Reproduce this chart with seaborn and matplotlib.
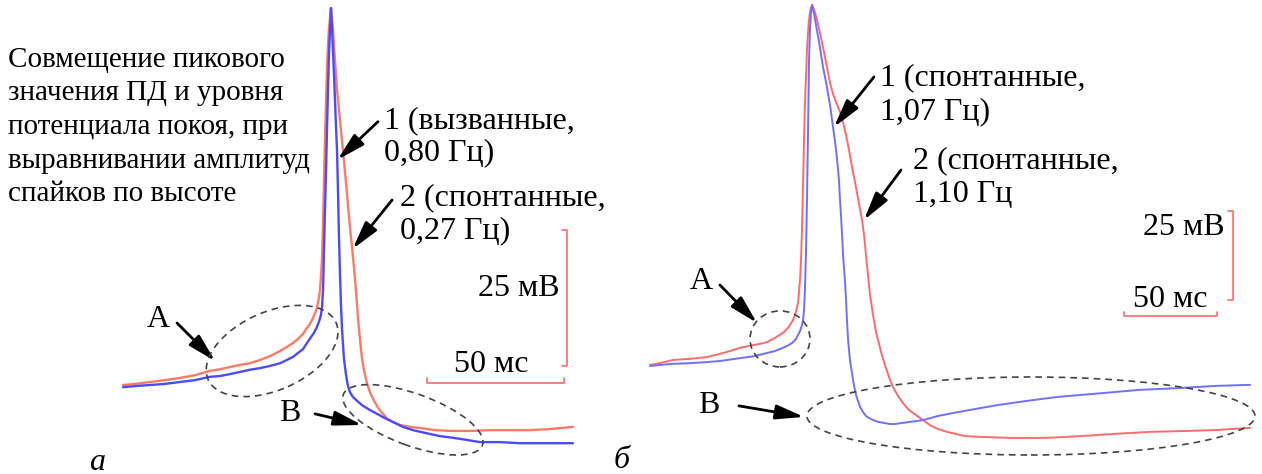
import numpy as np
import pandas as pd
import matplotlib
matplotlib.use("Agg")
import matplotlib.pyplot as plt
import matplotlib.transforms as mtransforms
from matplotlib.patches import Ellipse
import seaborn as sns

# ---------------- data: action potentials, time in ms (0 = peak), voltage in mV ----------------
# panel а: trace 1 (evoked, 0.80 Hz)
a1_t = [-75.9, -71.5, -66.1, -60.6, -55.1, -49.6, -44.2, -40.5, -36.9, -33.2, -29.6, -25.9,
        -22.3, -18.6, -16.1, -13.9, -12.0, -10.2, -8.8, -7.7, -6.2, -5.1, -4.4, -3.65, -3.3,
        -2.9, -2.55, -2.2, -1.8, -1.46, -1.1, -0.73, -0.36, 0.0,
        0.36, 0.73, 1.1, 1.46, 1.8, 2.2, 2.55, 2.9, 3.3, 3.65, 4.0, 4.4, 4.7, 5.5, 6.2, 6.9,
        8.0, 9.5, 11.3, 14.2, 16.8, 19.7, 22.6, 26.3, 29.9, 34.3, 39.8, 44.5, 49.6, 54.4,
        61.7, 69.0, 78.1, 88.3]
a1_v = [-49.7, -49.5, -49.3, -49.1, -48.75, -48.4, -47.8, -47.65, -47.3, -46.9, -46.5, -46.2,
        -45.8, -45.3, -44.7, -44.15, -43.4, -42.7, -41.6, -40.8, -39.7, -38.6, -37.7, -36.4, -35.1,
        -31.8, -24.5, -17.1, -9.8, -2.4, 4.9, 11.4, 16.0, 20.0,
        16.3, 12.3, 7.7, 3.1, -1.5, -6.1, -13.5, -21.7, -29.1, -34.6, -38.8, -41.9, -44.3, -47.5,
        -49.5, -50.6, -51.5, -52.2, -53.0, -53.9, -54.6, -55.4, -56.1, -57.0, -57.6, -58.1,
        -58.7, -59.0, -59.4, -59.8, -59.8, -60.0, -60.0, -60.0]

# panel а: trace 2 (spontaneous, 0.27 Hz)
a2_t = [-75.9, -71.5, -66.1, -60.6, -55.1, -49.6, -44.2, -40.5, -36.9, -33.2, -29.6, -25.9,
        -22.3, -18.6, -16.1, -13.9, -12.0, -10.2, -8.8, -7.7, -6.6, -5.8, -5.1, -4.4, -4.0,
        -3.65, -3.3, -2.9, -2.55, -2.2, -1.8, -1.46, -1.1, -0.73, 0.0,
        0.73, 1.46, 2.2, 3.3, 4.0, 4.7, 5.5, 6.2, 6.9, 7.7, 8.4, 9.1, 9.85, 10.6, 11.3,
        12.0, 13.1, 14.2, 15.7, 17.2, 18.6, 20.4, 22.6, 25.2, 28.8, 32.5, 38.0, 44.5, 50.7,
        58.0, 65.3, 72.6, 79.9, 88.3]
a2_v = [-49.3, -49.1, -48.75, -48.4, -48.0, -47.5, -46.7, -46.4, -46.0, -45.6, -45.3, -44.7,
        -44.0, -43.05, -42.3, -41.6, -40.8, -39.9, -38.8, -38.1, -37.0, -36.1, -35.0, -33.3, -31.8,
        -29.4, -26.3, -19.9, -11.6, -4.3, 3.1, 8.6, 13.2, 16.3, 20.0,
        15.96, 10.4, 4.9, -0.6, -4.3, -7.9, -12.2, -16.2, -20.1, -24.1, -27.8, -31.8, -37.0, -41.0,
        -44.3, -46.5, -48.9, -50.6, -52.2, -53.5, -54.4, -55.4, -56.1, -56.65, -57.0, -57.2,
        -57.6, -57.75, -57.75, -57.6, -57.6, -57.6, -57.4, -57.0]

# panel б: trace 1 (spontaneous, 1.07 Hz)
b1_t = [-87.1, -81.7, -74.7, -65.6, -56.5, -49.5, -38.7, -30.6, -24.2, -19.9, -15.6, -12.4,
        -10.2, -8.6, -7.5, -6.45, -5.9, -5.4, -4.8, -4.3, -3.8, -3.2, -2.7, -2.15, -1.6, -1.1,
        -0.54, 0.0,
        1.1, 2.15, 3.8, 5.9, 7.5, 9.7, 11.3, 12.4, 13.4, 14.5, 15.05, 15.6, 16.1, 16.7, 17.2,
        17.7, 18.3, 18.8, 19.4, 20.4, 21.5, 22.6, 23.7, 24.7, 25.8, 27.4, 29.0, 30.6, 32.8,
        35.5, 38.7, 41.9, 44.6, 48.4, 52.7, 59.7, 67.7, 75.8, 87.6, 99.5, 115.6, 131.7, 144.1,
        156.5, 176.3, 197.8, 216.7, 235.5]
b1_v = [-81.4, -81.1, -80.8, -80.6, -80.3, -80.0, -79.2, -78.6, -77.75, -77.2, -76.3, -75.5,
        -74.7, -73.8, -72.7, -71.6, -70.7, -69.9, -68.5, -65.7, -60.1, -48.8, -34.8, -16.0, 4.55, 13.0,
        18.0, 20.0,
        17.5, 14.4, 9.6, 2.6, -1.6, -8.1, -14.3, -18.5, -23.0, -29.2, -34.8, -39.3, -44.0, -50.2, -53.9,
        -57.2, -62.9, -68.5, -74.1, -79.7, -83.4, -87.0, -89.55, -91.2, -92.9, -94.3, -95.45, -96.0, -96.6,
        -97.1, -97.4, -97.7, -97.7, -97.4, -97.1, -96.6, -95.45, -94.6, -93.5, -92.4, -91.2, -90.1, -89.55,
        -89.0, -88.1, -87.6, -87.0, -86.7]

# panel б: trace 2 (spontaneous, 1.10 Hz)
b2_t = [-87.1, -81.7, -74.7, -65.6, -56.5, -49.5, -44.1, -38.7, -33.3, -28.0, -24.2, -19.9,
        -15.6, -12.9, -10.2, -8.6, -7.5, -7.0, -6.45, -5.9, -5.4, -4.8, -4.3, -3.8, -3.2, -2.7,
        -2.15, -1.6, -1.1, -0.54, 0.0,
        1.6, 2.7, 4.3, 5.9, 7.5, 9.7, 11.3, 12.9, 15.1, 16.7, 18.3, 19.9, 21.5, 23.1, 24.7,
        26.9, 28.0, 29.0, 30.1, 31.2, 32.8, 34.4, 35.5, 37.1, 39.2, 41.4, 43.5, 46.2, 48.9,
        51.6, 54.3, 58.1, 63.4, 67.7, 72.6, 77.4, 82.3, 90.3, 106.5, 126.3, 144.1, 161.8,
        181.7, 197.8, 216.7, 235.5]
b2_v = [-81.1, -80.6, -79.7, -79.4, -78.9, -78.0, -77.2, -76.3, -75.7, -75.2, -74.7, -73.5,
        -72.1, -70.7, -68.5, -66.2, -63.7, -60.6, -57.2, -51.6, -43.2, -30.6, -17.9, -8.1, 0.3, 7.4,
        12.1, 15.8, 18.0, 19.2, 20.0,
        18.0, 15.8, 12.1, 8.2, 4.0, -1.9, -5.0, -7.25, -10.1, -12.9, -16.5, -20.7, -25.5, -29.7, -34.2,
        -40.4, -44.6, -50.2, -55.8, -61.5, -67.1, -71.85, -74.1, -77.5, -81.1, -84.5, -87.3, -89.8, -91.8,
        -93.5, -94.6, -96.0, -98.0, -99.1, -99.9, -100.5, -101.1, -101.3, -101.6, -101.6, -101.1, -100.5,
        -99.9, -99.7, -99.4, -98.8]

scale_mv = 25
scale_ms = 50

caption = ["Совмещение пикового", "значения ПД и уровня", "потенциала покоя, при",
           "выравнивании амплитуд", "спайков по высоте"]
labels_a = [["1 (вызванные,", "0,80 Гц)"], ["2 (спонтанные,", "0,27 Гц)"]]
labels_b = [["1 (спонтанные,", "1,07 Гц)"], ["2 (спонтанные,", "1,10 Гц"]]

# ---------------- styling ----------------
sns.set_theme(style="white")
plt.rcParams["font.family"] = ["Liberation Serif", "DejaVu Serif"]
plt.rcParams["text.color"] = "black"
FS_CAP = 21
FS = 23
BAR = "#ff6b6b"
ELL = "#444444"

fig = plt.figure(figsize=(12.62, 4.74), dpi=100)
ax_a = fig.add_axes([0.0, 0.0, 0.5, 1.0])
ax_b = fig.add_axes([0.5, 0.0, 0.5, 1.0])
ax_a.set_xlim(-120.8, 109.5)
ax_a.set_ylim(-65.66, 21.47)
ax_b.set_xlim(-97.3, 241.9)
ax_b.set_ylim(-111.74, 21.40)
for ax in (ax_a, ax_b):
    ax.set_axis_off()

# traces
sns.lineplot(x=a2_t, y=a2_v, ax=ax_a, color="#ff7a66", lw=1.7, sort=False, estimator=None)
sns.lineplot(x=a1_t, y=a1_v, ax=ax_a, color="#4a4aff", lw=1.7, sort=False, estimator=None)
sns.lineplot(x=b2_t, y=b2_v, ax=ax_b, color="#ff6b6b", lw=1.4, sort=False, estimator=None)
sns.lineplot(x=b1_t, y=b1_v, ax=ax_b, color="#7070ff", lw=1.4, sort=False, estimator=None)


def scale_bar(ax, x_v, y_top, x_left, y_h, tick_dx, tick_dy):
    """Vertical bar of scale_mv and horizontal bar of scale_ms with small end ticks."""
    ax.plot([x_v - tick_dx, x_v, x_v, x_v - tick_dx],
            [y_top, y_top, y_top - scale_mv, y_top - scale_mv], color=BAR, lw=1.2)
    ax.plot([x_left, x_left, x_left + scale_ms, x_left + scale_ms],
            [y_h + tick_dy, y_h, y_h, y_h + tick_dy], color=BAR, lw=1.2)


def arrow(ax, tail, head):
    ax.annotate("", xy=head, xytext=tail,
                arrowprops=dict(arrowstyle="-|>,head_length=0.85,head_width=0.22",
                                mutation_scale=20, color="black", lw=2.0,
                                shrinkA=0, shrinkB=0))


def ellipse(ax, center, w_px, h_px, angle):
    cx, cy = ax.transData.transform(center)
    e = Ellipse((0, 0), w_px, h_px, angle=angle, fill=False, ec=ELL, lw=1.2,
                ls=(0, (4, 3)), transform=mtransforms.Affine2D().translate(cx, cy))
    fig.add_artist(e)


def two_lines(ax, x, y1, y2, lines):
    ax.text(x, y1, lines[0], fontsize=FS, ha="left", va="center")
    ax.text(x, y2, lines[1], fontsize=FS, ha="left", va="center")


# ---------------- panel а ----------------
scale_bar(ax_a, 86.1, -20.8, 35.0, -48.9, 1.8, 0.9)
ax_a.text(83.6, -31.5, f"{scale_mv} мВ", fontsize=FS, ha="right", va="center")
ax_a.text(58.4, -45.6, f"{scale_ms} мс", fontsize=FS, ha="center", va="center")

two_lines(ax_a, 19.3, -0.8, -6.6, labels_a[0])
two_lines(ax_a, 25.2, -14.9, -21.0, labels_a[1])
arrow(ax_a, (17.15, -0.9), (2.4, -7.9))
arrow(ax_a, (22.3, -15.3), (7.9, -24.3))

ax_a.text(-63.1, -37.2, "A", fontsize=FS, ha="center", va="center")
ax_a.text(-15.0, -54.45, "B", fontsize=FS, ha="center", va="center")
arrow(ax_a, (-56.2, -37.9), (-42.3, -44.9))
arrow(ax_a, (-5.84, -54.6), (11.3, -56.65))
ellipse(ax_a, (-21.5, -43.05), 140, 78, 24)
ellipse(ax_a, (29.9, -55.7), 148, 52, -20)

# ---------------- panel б ----------------
scale_bar(ax_b, 226.3, -37.87, 167.7, -67.36, 2.7, 1.1)
ax_b.text(222.0, -42.4, f"{scale_mv} мВ", fontsize=FS, ha="right", va="center")
ax_b.text(192.5, -62.7, f"{scale_ms} мс", fontsize=FS, ha="center", va="center")

two_lines(ax_b, 36.6, -0.5, -10.1, labels_b[0])
two_lines(ax_b, 54.3, -23.8, -33.1, labels_b[1])
arrow(ax_b, (33.3, -0.2), (11.8, -14.3))
arrow(ax_b, (47.85, -26.35), (27.96, -40.4))

ax_b.text(-59.7, -57.8, "A", fontsize=FS, ha="center", va="center")
ax_b.text(-55.4, -92.4, "B", fontsize=FS, ha="center", va="center")
arrow(ax_b, (-49.5, -58.65), (-29.6, -69.3))
arrow(ax_b, (-39.25, -92.6), (-4.3, -95.7))
ellipse(ax_b, (-17.2, -73.8), 60, 56, 0)
ellipse(ax_b, (117.7, -95.45), 448, 78, 0)

# ---------------- caption and panel letters ----------------
for i, line in enumerate(caption):
    fig.text(8 / 1262, 1 - (60 + 33.5 * i) / 474, line, fontsize=FS_CAP, ha="left", va="center")
fig.text(97 / 1262, 1 - 462 / 474, "а", fontsize=FS, style="italic", ha="center", va="center")
fig.text(622 / 1262, 1 - 460 / 474, "б", fontsize=FS, style="italic", ha="center", va="center")

fig.savefig("out.png", dpi=100)
